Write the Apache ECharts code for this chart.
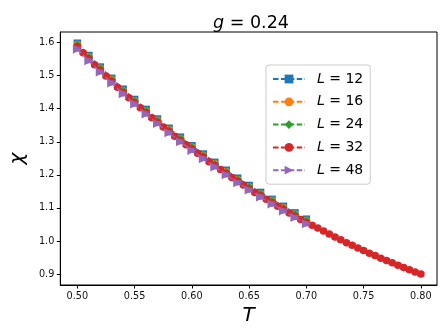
<!DOCTYPE html>
<html>
<head>
<meta charset="utf-8">
<script src="https://cdn.jsdelivr.net/npm/echarts@6/dist/echarts.min.js"></script>
<style>
  html, body { margin: 0; padding: 0; background: #fff; }
  #chart { width: 448px; height: 336px; }
</style>
</head>
<body>
<div id="chart"></div>
<script>
// system sizes and colours (matplotlib tab10)
var sizes = ['12', '16', '24', '32', '48'];
var colors = ['#1f77b4', '#ff7f0e', '#2ca02c', '#d62728', '#9467bd'];
var symbols = ['rect', 'circle', 'diamond', 'circle', 'path://M0,0L10,5L0,10Z'];
var errSize = [0.006, 0.005, 0.004, 0.005, 0.006];

// temperatures
var tShort = [0.50, 0.51, 0.52, 0.53, 0.54, 0.55, 0.56, 0.57, 0.58, 0.59, 0.60,
              0.61, 0.62, 0.63, 0.64, 0.65, 0.66, 0.67, 0.68, 0.69, 0.70];
var tLong = [0.500, 0.505, 0.510, 0.515, 0.520, 0.525, 0.530, 0.535, 0.540, 0.545,
             0.550, 0.555, 0.560, 0.565, 0.570, 0.575, 0.580, 0.585, 0.590, 0.595,
             0.600, 0.605, 0.610, 0.615, 0.620, 0.625, 0.630, 0.635, 0.640, 0.645,
             0.650, 0.655, 0.660, 0.665, 0.670, 0.675, 0.680, 0.685, 0.690, 0.695,
             0.700, 0.705, 0.710, 0.715, 0.720, 0.725, 0.730, 0.735, 0.740, 0.745,
             0.750, 0.755, 0.760, 0.765, 0.770, 0.775, 0.780, 0.785, 0.790, 0.795,
             0.800];

// chi values
var chiL12 = [1.598, 1.561, 1.526, 1.492, 1.459, 1.428, 1.398, 1.369, 1.341, 1.314, 1.288,
              1.263, 1.238, 1.214, 1.190, 1.168, 1.147, 1.126, 1.105, 1.085, 1.066];
var chiL16 = [1.595, 1.558, 1.523, 1.489, 1.456, 1.425, 1.395, 1.366, 1.338, 1.311, 1.285,
              1.260, 1.235, 1.211, 1.187, 1.165, 1.144, 1.123, 1.102, 1.082, 1.063];
var chiL24 = [1.593, 1.556, 1.521, 1.487, 1.454, 1.423, 1.393, 1.364, 1.336, 1.309, 1.283,
              1.258, 1.233, 1.209, 1.185, 1.163, 1.142, 1.121, 1.100, 1.080, 1.061];
var chiL32 = [1.588, 1.569, 1.551, 1.533, 1.516, 1.499, 1.482, 1.465, 1.449, 1.433,
              1.418, 1.403, 1.388, 1.373, 1.359, 1.345, 1.331, 1.317, 1.304, 1.291,
              1.278, 1.265, 1.253, 1.240, 1.228, 1.216, 1.204, 1.192, 1.180, 1.169,
              1.158, 1.147, 1.137, 1.126, 1.116, 1.105, 1.095, 1.085, 1.075, 1.065,
              1.056, 1.048, 1.039, 1.030, 1.021, 1.012, 1.004, 0.995, 0.987, 0.979,
              0.971, 0.963, 0.956, 0.948, 0.941, 0.934, 0.927, 0.920, 0.913, 0.906,
              0.900];
var chiL48 = [1.580, 1.545, 1.511, 1.478, 1.445, 1.414, 1.384, 1.355, 1.327, 1.300, 1.274,
              1.249, 1.224, 1.200, 1.176, 1.154, 1.133, 1.112, 1.091, 1.071, 1.052];

var temps = [tShort, tShort, tShort, tLong, tShort];
var chis = [chiL12, chiL16, chiL24, chiL32, chiL48];
var markSize = [7.5, 7, 8.5, 7.5, 9];

var font = 'DejaVu Sans';
var series = [];
sizes.forEach(function (L, i) {
  var pts = temps[i].map(function (t, k) { return [t, chis[i][k]]; });
  var errs = temps[i].map(function (t, k) { return [t, chis[i][k], errSize[i]]; });
  series.push({
    name: 'err' + L,
    type: 'custom',
    z: 10 + 2 * i,
    silent: true,
    encode: { x: 0, y: 1 },
    data: errs,
    renderItem: function (params, api) {
      var x = api.value(0), y = api.value(1), e = api.value(2);
      var top = api.coord([x, y + e]);
      var bot = api.coord([x, y - e]);
      var c = 3.5;
      var st = { stroke: colors[i], lineWidth: 1.2, opacity: 0.8 };
      return {
        type: 'group',
        children: [
          { type: 'line', shape: { x1: top[0], y1: top[1], x2: bot[0], y2: bot[1] }, style: st },
          { type: 'line', shape: { x1: top[0] - c, y1: top[1], x2: top[0] + c, y2: top[1] }, style: st },
          { type: 'line', shape: { x1: bot[0] - c, y1: bot[1], x2: bot[0] + c, y2: bot[1] }, style: st }
        ]
      };
    }
  });
  series.push({
    name: 'L = ' + L,
    type: 'line',
    z: 11 + 2 * i,
    data: pts,
    symbol: symbols[i],
    symbolSize: markSize[i],
    showAllSymbol: true,
    color: colors[i],
    lineStyle: { color: colors[i], width: 1.5, type: [5.5, 2.4] },
    itemStyle: { color: colors[i] },
    animation: false
  });
});

var chart = echarts.init(document.getElementById('chart'));
chart.setOption({
  animation: false,
  backgroundColor: '#fff',
  title: {
    text: '{i|g} = 0.24',
    left: 246,
    textAlign: 'center',
    top: 9,
    textStyle: {
      fontFamily: font, fontSize: 17.5, fontWeight: 'normal', color: '#000',
      rich: { i: { fontFamily: font, fontSize: 17.5, fontStyle: 'italic', color: '#000' } }
    }
  },
  grid: { left: 56, right: 11, top: 32, bottom: 51, show: true, borderColor: '#000', borderWidth: 1 },
  legend: {
    data: sizes.map(function (L) { return 'L = ' + L; }),
    orient: 'vertical',
    left: 266,
    top: 65,
    padding: [5, 7, 5, 6],
    itemWidth: 32,
    itemHeight: 11,
    itemGap: 4.8,
    backgroundColor: '#fff',
    borderColor: '#ccc',
    borderWidth: 1,
    borderRadius: 3,
    formatter: function (n) { return '{i|L} = ' + n.slice(4); },
    textStyle: {
      fontFamily: font, fontSize: 14, color: '#000', lineHeight: 18, padding: [0, 0, 0, 7],
      rich: { i: { fontFamily: font, fontSize: 14, fontStyle: 'italic', color: '#000' } }
    }
  },
  xAxis: {
    type: 'value',
    min: 0.4851,
    max: 0.8141,
    splitNumber: 6,
    name: 'T',
    nameLocation: 'middle',
    nameGap: 17,
    nameTextStyle: { fontFamily: font, fontSize: 20, fontStyle: 'italic', color: '#000' },
    axisLine: { show: true, onZero: false, lineStyle: { color: '#000', width: 1 } },
    axisTick: { show: true, length: 3.5, lineStyle: { color: '#000' } },
    splitLine: { show: false },
    axisLabel: {
      showMinLabel: false, showMaxLabel: false, margin: 6,
      fontFamily: font, fontSize: 9.7, color: '#111',
      formatter: function (v) { return v.toFixed(2); }
    }
  },
  yAxis: {
    type: 'value',
    min: 0.867,
    max: 1.632,
    splitNumber: 8,
    name: 'χ',
    nameLocation: 'middle',
    nameGap: 26,
    nameTextStyle: { fontFamily: font, fontSize: 20, fontStyle: 'italic', color: '#000' },
    axisLine: { show: true, onZero: false, lineStyle: { color: '#000', width: 1 } },
    axisTick: { show: true, length: 3.5, lineStyle: { color: '#000' } },
    splitLine: { show: false },
    axisLabel: {
      showMinLabel: false, showMaxLabel: false, margin: 6,
      fontFamily: font, fontSize: 9.7, color: '#111',
      formatter: function (v) { return v.toFixed(1); }
    }
  },
  series: series
});
</script>
</body>
</html>
